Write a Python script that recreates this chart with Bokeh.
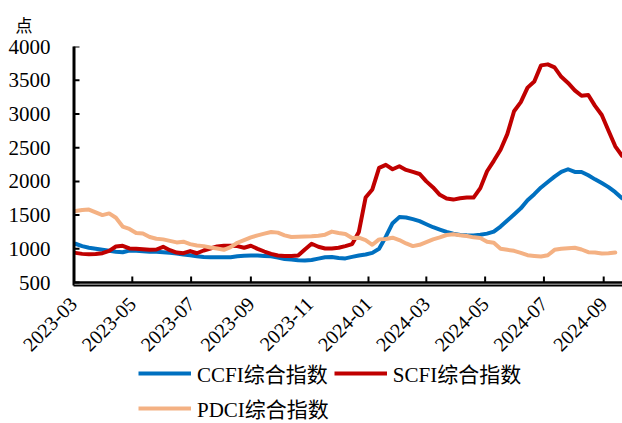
import pandas as pd
from bokeh.plotting import figure
from bokeh.layouts import column
from bokeh.models import (Range1d, FixedTicker, DatetimeTickFormatter, Legend,
                          LegendItem)
from bokeh.embed import file_html
from bokeh.resources import INLINE
from math import pi

# ---------------- data (weekly) ----------------
first_week = "2023-03-03"
n_weeks = 82
dates = pd.date_range(first_week, periods=n_weeks, freq="7D")

ccfi = [1075, 1040, 1015, 1000, 985, 970, 955, 950, 975, 970,
        965, 958, 955, 950, 940, 930, 915, 905, 890, 878,
        876, 875, 876, 876, 890, 898, 900, 900, 895, 890,
        870, 850, 840, 830, 828, 835, 855, 875, 880, 865,
        858, 880, 900, 915, 940, 1000, 1180, 1380, 1470, 1465,
        1440, 1410, 1365, 1320, 1285, 1250, 1225, 1205, 1200, 1198,
        1210, 1225, 1255, 1330, 1420, 1510, 1600, 1720, 1810, 1910,
        1990, 2070, 2140, 2180, 2140, 2140, 2090, 2030, 1975, 1915,
        1840, 1750]

scfi = [940, 925, 920, 922, 935, 970, 1035, 1045, 1005, 1000,
        992, 985, 990, 1030, 980, 945, 935, 967, 934, 975,
        1005, 1035, 1045, 1045, 1040, 1016, 1045, 1000, 960, 925,
        900, 895, 895, 900, 990, 1075, 1030, 1005, 1005, 1015,
        1040, 1070, 1250, 1760, 1880, 2200, 2245, 2180, 2225, 2170,
        2140, 2110, 2000, 1910, 1800, 1745, 1730, 1750, 1760, 1760,
        1900, 2150, 2305, 2470, 2700, 3040, 3175, 3390, 3480, 3720,
        3735, 3690, 3550, 3460, 3350, 3270, 3280, 3120, 2985, 2750,
        2520, 2380]

pdci = [1560, 1575, 1582, 1540, 1500, 1525, 1460, 1330, 1295, 1235,
        1228, 1175, 1150, 1140, 1118, 1095, 1105, 1070, 1050, 1040,
        1020, 1005, 985, 1025, 1090, 1130, 1170, 1200, 1225, 1250,
        1240, 1200, 1175, 1180, 1183, 1185, 1195, 1210, 1255, 1235,
        1220, 1160, 1165, 1130, 1060, 1140, 1145, 1165, 1130, 1080,
        1040, 1060, 1100, 1140, 1170, 1205, 1215, 1200, 1190, 1170,
        1160, 1105, 1090, 1000, 985, 970, 940, 905, 895, 886,
        905, 985, 1000, 1010, 1016, 990, 950, 945, 930, 935,
        945]
pdci_dates = dates[:len(pdci)]

series = [("CCFI综合指数", dates, ccfi, "#0070C0"),
          ("SCFI综合指数", dates, scfi, "#C00000"),
          ("PDCI综合指数", pdci_dates, pdci, "#F4B183")]

tick_labels = ["2023-03", "2023-05", "2023-07", "2023-09", "2023-11",
               "2024-01", "2024-03", "2024-05", "2024-07", "2024-09"]
y_ticks = [500, 1000, 1500, 2000, 2500, 3000, 3500, 4000]
y_min, y_max = 500, 4000
y_unit = "点"

x_start = pd.Timestamp("2023-03-01")
x_end = pd.Timestamp("2024-09-20 12:00")

# ---------------- main chart ----------------
LATIN = "'Liberation Serif', 'Noto Sans CJK SC'"
W = 622
H_MAIN, H_LEG = 362, 61
FRAME_L, FRAME_T, FRAME_B = 73, 43, 285
AXIS_GAP = 3          # keep the value-500 rule just inside the frame
TICK_PX = 6
y_per_px = (y_max - y_min) / (FRAME_B - AXIS_GAP - FRAME_T)
x_per_px = (x_end - x_start) / (W - FRAME_L)
x_range = Range1d(x_start, x_end)

p = figure(width=W, height=H_MAIN, x_axis_type="datetime",
           x_range=x_range,
           y_range=Range1d(y_min - AXIS_GAP * y_per_px, y_max),
           output_backend="svg", toolbar_location=None,
           min_border_left=FRAME_L, min_border_right=0,
           min_border_top=FRAME_T, min_border_bottom=H_MAIN - FRAME_B)
p.outline_line_color = None
p.grid.visible = False

p.title.text = y_unit
p.title.align = "left"
p.title.offset = -58
p.title.standoff = 19
p.title.text_font = "Noto Sans CJK SC"
p.title.text_font_size = "17px"
p.title.text_font_style = "normal"
p.title.text_color = "black"

for name, xs, ys, color in series:
    p.line(xs, ys, color=color, line_width=4, line_join="round",
           line_cap="round")

# axis rules and inward tick marks, drawn inside the frame from the tick lists
tick_dates = [pd.Timestamp(t + "-01") for t in tick_labels]
p.segment(x0=[x_start], y0=[y_min], x1=[x_start], y1=[y_max],
          line_color="black", line_width=4)
p.segment(x0=[x_start], y0=[y_min], x1=[x_end], y1=[y_min],
          line_color="black", line_width=2.5)
p.segment(x0=tick_dates, y0=[y_min] * len(tick_dates),
          x1=tick_dates, y1=[y_min + TICK_PX * y_per_px] * len(tick_dates),
          line_color="black", line_width=2)
p.segment(x0=[x_start] * len(y_ticks), y0=y_ticks,
          x1=[x_start + TICK_PX * x_per_px] * len(y_ticks), y1=y_ticks,
          line_color="black", line_width=2)

tick_ms = [t.value // 10**6 for t in tick_dates]
xa = p.xaxis[0]
xa.ticker = FixedTicker(ticks=tick_ms)
fmt = "%Y-%m"
xa.formatter = DatetimeTickFormatter(
    microseconds=fmt, milliseconds=fmt, seconds=fmt, minsec=fmt,
    minutes=fmt, hourmin=fmt, hours=fmt, days=fmt, months=fmt, years=fmt)
xa.major_label_orientation = pi / 4
xa.major_label_text_font = LATIN
xa.major_label_text_font_size = "20px"
xa.major_label_text_color = "black"
xa.major_label_standoff = 15

ya = p.yaxis[0]
ya.ticker = FixedTicker(ticks=y_ticks)
ya.major_label_text_font = LATIN
ya.major_label_text_font_size = "21px"
ya.major_label_text_color = "black"
ya.major_label_standoff = 23

for ax in (xa, ya):
    ax.axis_line_color = "black"
    ax.axis_line_width = 2
    ax.major_tick_line_color = None
    ax.major_tick_in = 0
    ax.major_tick_out = 0
    ax.minor_tick_line_color = None

# ---------------- legend strip ----------------
# same series, drawn outside this strip's visible range: only the legend shows
q = figure(width=W, height=H_LEG, x_axis_type="datetime", x_range=x_range,
           y_range=Range1d(0, 1), output_backend="svg",
           toolbar_location=None, x_axis_location=None, y_axis_location=None,
           min_border_left=0, min_border_right=0, min_border_top=0,
           min_border_bottom=0)
q.outline_line_color = None
q.grid.visible = False

items = []
for name, xs, ys, color in series:
    r = q.line(xs, ys, color=color, line_width=4)
    items.append(LegendItem(label=name, renderers=[r]))

legend = Legend(items=items, orientation="horizontal", ncols=2,
                location=(65, 0),
                glyph_width=53, glyph_height=22, label_height=22,
                label_standoff=6, spacing=5, padding=0, margin=0,
                label_text_font=LATIN, label_text_font_size="21px",
                label_text_color="black",
                background_fill_alpha=0, border_line_alpha=0)
q.add_layout(legend, "center")

open("out.html", "w").write(file_html(column(p, q, spacing=0), INLINE))
